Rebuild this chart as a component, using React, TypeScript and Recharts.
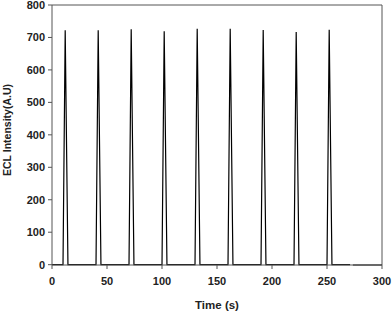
import { Line, LineChart, ReferenceLine, XAxis, YAxis } from "recharts";

// pulse timing: rise at t0, top at t0 + 2, back to zero at t0 + 4.5
const time = [
  0, 10, 12, 14.5, 40, 42, 44.5, 70, 72, 74.5, 100, 102, 104.5, 130, 132, 134.5,
  160, 162, 164.5, 190, 192, 194.5, 220, 222, 224.5, 250, 252, 254.5, 271, 272,
  273.5, 300
];
const intensity: (number | null)[] = [
  0, 0, 722, 0, 0, 722, 0, 0, 725, 0, 0, 719, 0, 0, 727, 0,
  0, 727, 0, 0, 723, 0, 0, 717, 0, 0, 724, 0, 0, null,
  -1, -1
];
const xTicks = [0, 50, 100, 150, 200, 250, 300];
const yTicks = [0, 100, 200, 300, 400, 500, 600, 700, 800];

const chartData = time.map((t, i) => ({ t, v: intensity[i] }));

const axisColor = "#555";
const tickStyle = { fill: "#222", fontSize: 11, fontWeight: 700, fontFamily: "Liberation Sans, Arial, sans-serif" };

function YLabel({ viewBox }: any) {
  const cy = viewBox.y + viewBox.height / 2 - 5;
  return (
    <text
      x={11}
      y={cy}
      transform={`rotate(-90, 11, ${cy})`}
      textAnchor="middle"
      style={{ ...tickStyle, fontSize: 10.5 }}
    >
      ECL Intensity(A.U)
    </text>
  );
}

export default function App() {
  return (
    <div style={{ position: "absolute", left: 0, top: 0, background: "#fff" }}>
      <LineChart width={392} height={311} data={chartData} margin={{ top: 5, right: 10, left: 0, bottom: 0 }}>
        <XAxis
          dataKey="t"
          type="number"
          domain={[0, 300]}
          ticks={xTicks}
          height={46}
          stroke={axisColor}
          tickSize={4}
          tickMargin={8}
          tick={tickStyle}
          interval={0}
          label={{
            value: "Time (s)",
            position: "insideBottom",
            offset: 2,
            style: { ...tickStyle, fontSize: 11.5 }
          }}
        />
        <YAxis
          type="number"
          domain={[0, 800]}
          ticks={yTicks}
          width={52}
          stroke={axisColor}
          tickSize={4}
          tickMargin={3}
          tick={tickStyle}
          interval={0}
          label={<YLabel />}
        />
        <ReferenceLine y={800} stroke={axisColor} />
        <ReferenceLine x={300} stroke={axisColor} />
        <Line
          type="linear"
          dataKey="v"
          stroke="#000"
          strokeWidth={1.2}
          dot={false}
          connectNulls={false}
          isAnimationActive={false}
        />
      </LineChart>
    </div>
  );
}
